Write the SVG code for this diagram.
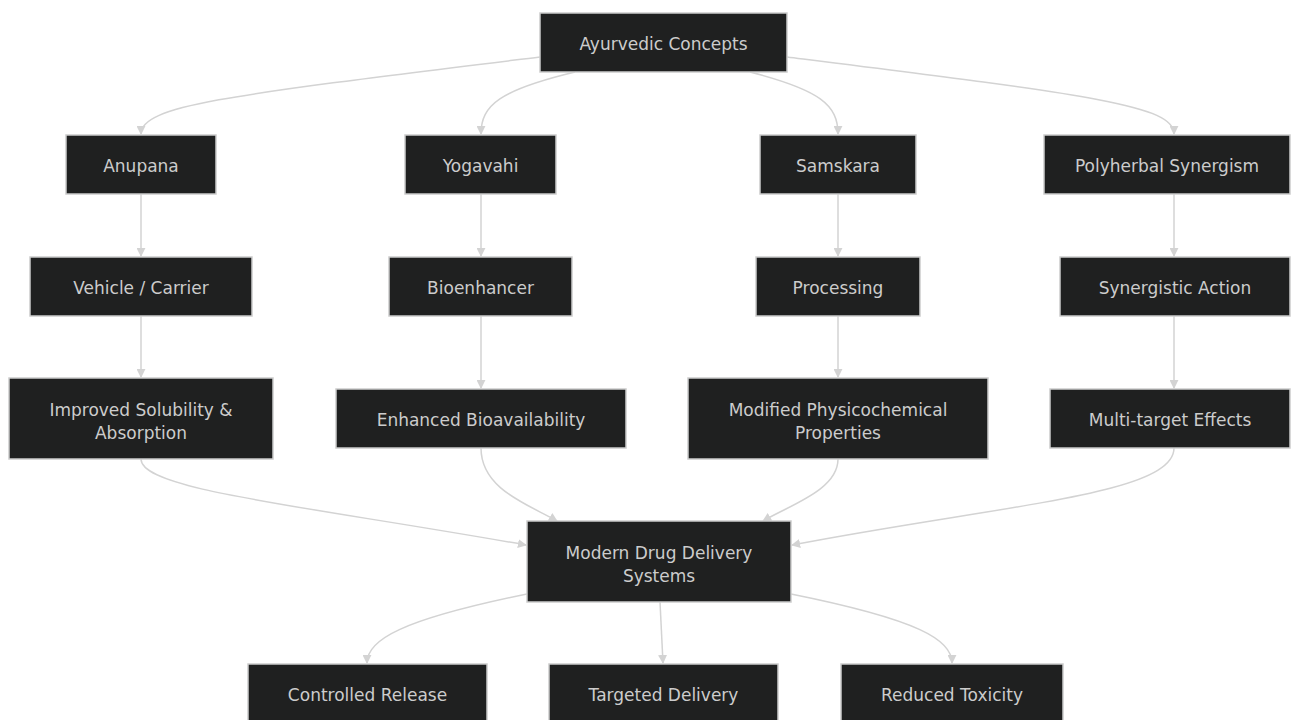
<svg xmlns="http://www.w3.org/2000/svg" width="1291" height="720" viewBox="0 0 1291 720">
<style>
.node rect{fill:#1f2020;stroke:#cccccc;stroke-width:1.5}
.node text{fill:#cccccc;font-family:"DejaVu Sans",sans-serif;font-size:17px;text-anchor:middle}
.edges path{fill:none;stroke:#d3d3d3;stroke-width:1.5;marker-end:url(#arr)}
</style>
<defs>
<marker id="arr" viewBox="0 0 10 10" refX="9" refY="5" markerWidth="9" markerHeight="9" markerUnits="userSpaceOnUse" orient="auto">
<path d="M0,0 L10,5 L0,10 z" fill="#d3d3d3"/>
</marker>
</defs>
<rect width="1291" height="720" fill="#ffffff"/>
<g class="edges">
<path d="M540,57 C230,95 141,105 141,134"/>
<path d="M575,72 C500,90 481,105 481,134"/>
<path d="M750,72 C820,90 838,105 838,134"/>
<path d="M787,57 C1090,95 1174,105 1174,134"/>
<path d="M141,194 L141,256"/>
<path d="M481,194 L481,256"/>
<path d="M838,194 L838,256"/>
<path d="M1174,194 L1174,256"/>
<path d="M141,316 L141,377"/>
<path d="M481,316 L481,388"/>
<path d="M838,316 L838,377"/>
<path d="M1174,316 L1174,388"/>
<path d="M141,459 C141,490 300,505 526,545"/>
<path d="M481,448 C481,490 530,505 557,521"/>
<path d="M838,459 C838,490 790,505 763,521"/>
<path d="M1174,448 C1174,495 1000,505 792,545"/>
<path d="M527,594 C400,620 367,640 367,663"/>
<path d="M660,602 L663,663"/>
<path d="M791,594 C920,620 952,640 952,663"/>
</g>
<g class="node" id="n-ayur"><rect x="540" y="13" width="247" height="59"/><text x="663.5" y="50">Ayurvedic Concepts</text></g>
<g class="node" id="n-anupana"><rect x="66" y="135" width="150" height="59"/><text x="141" y="172">Anupana</text></g>
<g class="node" id="n-yogavahi"><rect x="405" y="135" width="151" height="59"/><text x="480.5" y="172">Yogavahi</text></g>
<g class="node" id="n-samskara"><rect x="760" y="135" width="156" height="59"/><text x="838" y="172">Samskara</text></g>
<g class="node" id="n-poly"><rect x="1044" y="135" width="246" height="59"/><text x="1167" y="172">Polyherbal Synergism</text></g>
<g class="node" id="n-vehicle"><rect x="30" y="257" width="222" height="59"/><text x="141" y="294">Vehicle / Carrier</text></g>
<g class="node" id="n-bio"><rect x="389" y="257" width="183" height="59"/><text x="480.5" y="294">Bioenhancer</text></g>
<g class="node" id="n-proc"><rect x="756" y="257" width="164" height="59"/><text x="838" y="294">Processing</text></g>
<g class="node" id="n-syn"><rect x="1060" y="257" width="230" height="59"/><text x="1175" y="294">Synergistic Action</text></g>
<g class="node" id="n-improved"><rect x="9" y="378" width="264" height="81"/><text x="141" y="416">Improved Solubility &amp;</text><text x="141" y="439">Absorption</text></g>
<g class="node" id="n-enhanced"><rect x="336" y="389" width="290" height="59"/><text x="481" y="426">Enhanced Bioavailability</text></g>
<g class="node" id="n-modified"><rect x="688" y="378" width="300" height="81"/><text x="838" y="416">Modified Physicochemical</text><text x="838" y="439">Properties</text></g>
<g class="node" id="n-multi"><rect x="1050" y="389" width="240" height="59"/><text x="1170" y="426">Multi-target Effects</text></g>
<g class="node" id="n-modern"><rect x="527" y="521" width="264" height="81"/><text x="659" y="559">Modern Drug Delivery</text><text x="659" y="582">Systems</text></g>
<g class="node" id="n-controlled"><rect x="248" y="664" width="239" height="59"/><text x="367.5" y="701">Controlled Release</text></g>
<g class="node" id="n-targeted"><rect x="549" y="664" width="229" height="59"/><text x="663.5" y="701">Targeted Delivery</text></g>
<g class="node" id="n-reduced"><rect x="841" y="664" width="222" height="59"/><text x="952" y="701">Reduced Toxicity</text></g>
</svg>
